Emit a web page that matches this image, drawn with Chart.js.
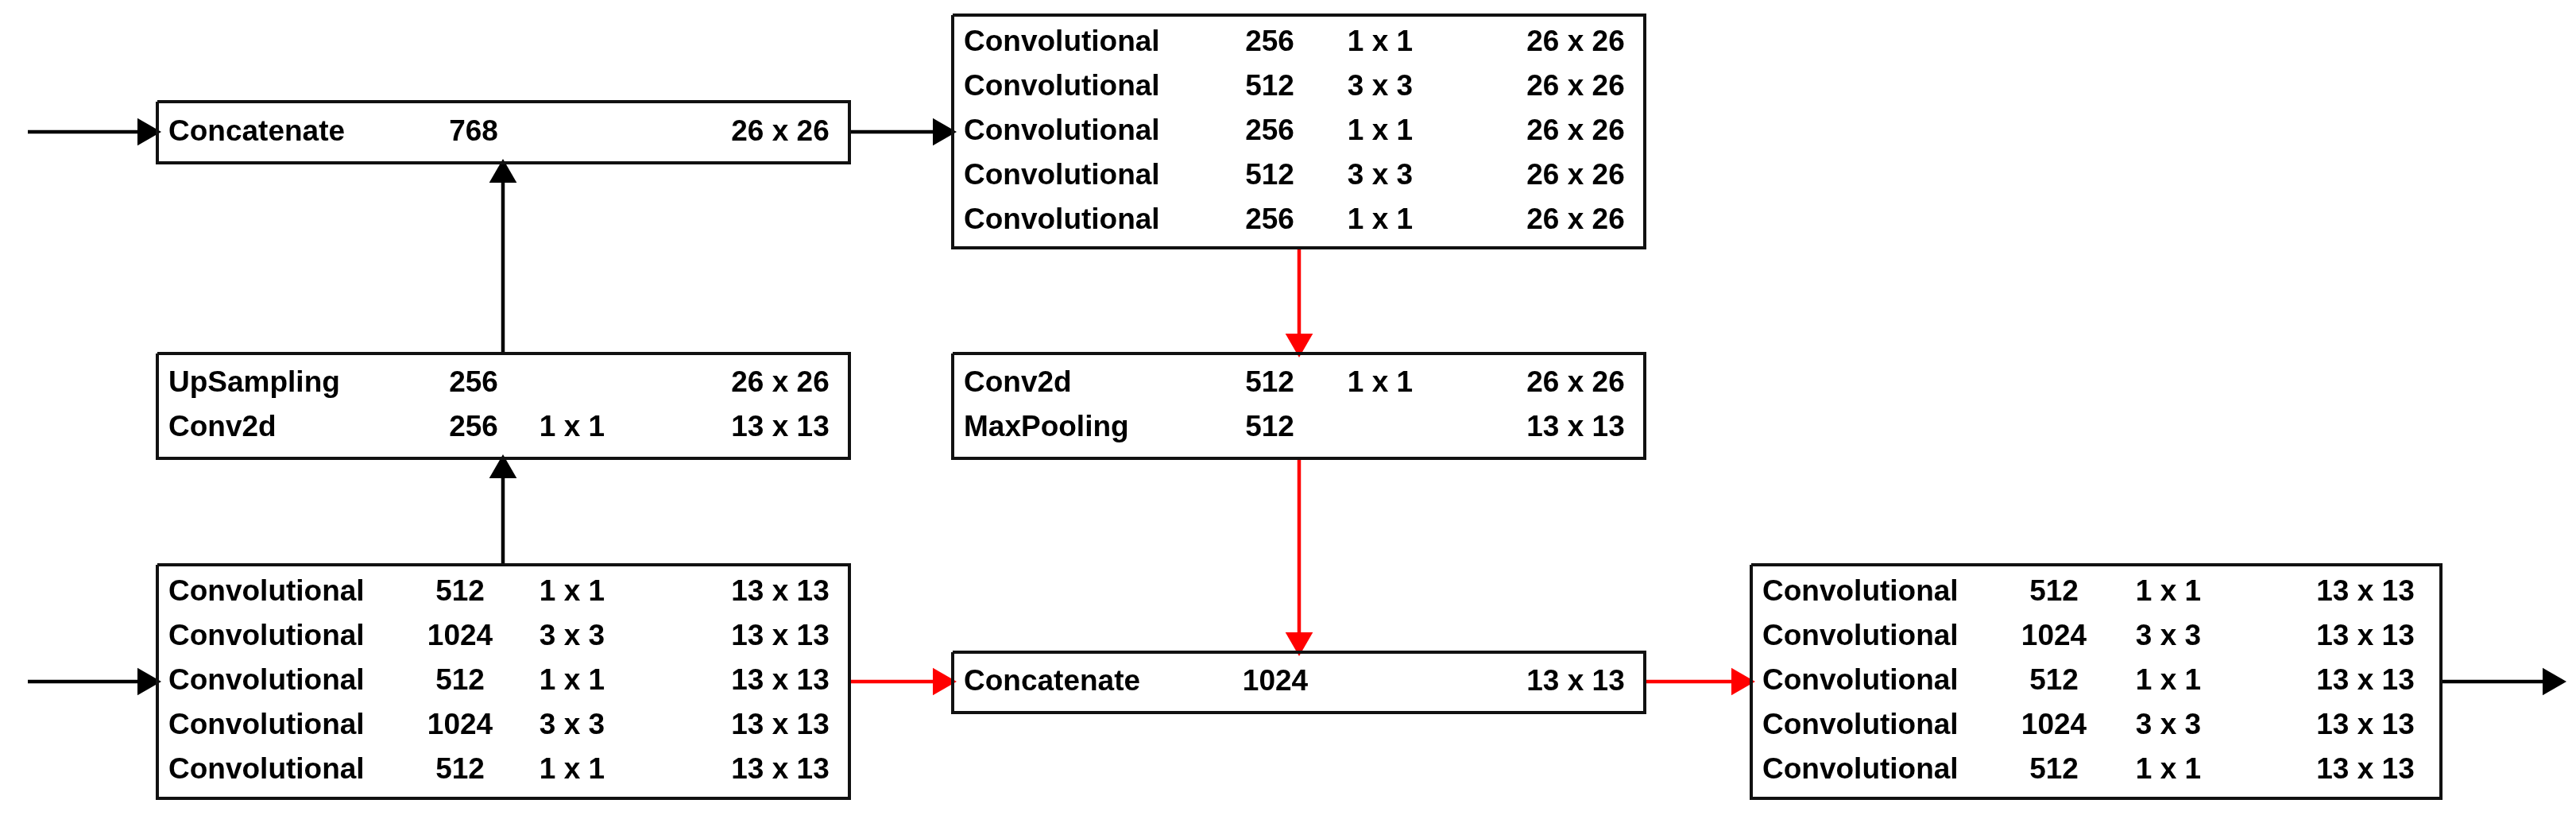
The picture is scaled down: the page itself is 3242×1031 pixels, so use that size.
<!DOCTYPE html>
<html>
<head>
<meta charset="utf-8">
<script src="https://cdn.jsdelivr.net/npm/chart.js@4"></script>
<style>
  html, body { margin: 0; padding: 0; background: #fff; }
  #wrap { width: 3242px; height: 1031px; }
</style>
</head>
<body>
<div id="wrap"><canvas id="net"></canvas></div>
<script>
// layer table per block: name, filters, kernel, output
var topConcatLayers  = ["Concatenate"];
var topConcatFilters = ["768"];
var topConcatKernels = [""];
var topConcatOutputs = ["26 x 26"];

var upLayers  = ["UpSampling", "Conv2d"];
var upFilters = ["256", "256"];
var upKernels = ["", "1 x 1"];
var upOutputs = ["26 x 26", "13 x 13"];

var leftConvLayers  = ["Convolutional", "Convolutional", "Convolutional", "Convolutional", "Convolutional"];
var leftConvFilters = ["512", "1024", "512", "1024", "512"];
var leftConvKernels = ["1 x 1", "3 x 3", "1 x 1", "3 x 3", "1 x 1"];
var leftConvOutputs = ["13 x 13", "13 x 13", "13 x 13", "13 x 13", "13 x 13"];

var topConvLayers  = ["Convolutional", "Convolutional", "Convolutional", "Convolutional", "Convolutional"];
var topConvFilters = ["256", "512", "256", "512", "256"];
var topConvKernels = ["1 x 1", "3 x 3", "1 x 1", "3 x 3", "1 x 1"];
var topConvOutputs = ["26 x 26", "26 x 26", "26 x 26", "26 x 26", "26 x 26"];

var poolLayers  = ["Conv2d", "MaxPooling"];
var poolFilters = ["512", "512"];
var poolKernels = ["1 x 1", ""];
var poolOutputs = ["26 x 26", "13 x 13"];

var midConcatLayers  = ["Concatenate"];
var midConcatFilters = ["1024"];
var midConcatKernels = [""];
var midConcatOutputs = ["13 x 13"];

var rightConvLayers  = ["Convolutional", "Convolutional", "Convolutional", "Convolutional", "Convolutional"];
var rightConvFilters = ["512", "1024", "512", "1024", "512"];
var rightConvKernels = ["1 x 1", "3 x 3", "1 x 1", "3 x 3", "1 x 1"];
var rightConvOutputs = ["13 x 13", "13 x 13", "13 x 13", "13 x 13", "13 x 13"];

// layout (in page units, mapped by the x/y scales)
var rowGap = 56;
var blocks = [
  { l: topConcatLayers, f: topConcatFilters, k: topConcatKernels, o: topConcatOutputs, box: [198, 1069, 128, 205], cols: [398, 538, 784] },
  { l: upLayers, f: upFilters, k: upKernels, o: upOutputs, box: [198, 1069, 445, 577], cols: [398, 522, 784] },
  { l: leftConvLayers, f: leftConvFilters, k: leftConvKernels, o: leftConvOutputs, box: [198, 1069, 711, 1005], cols: [381, 522, 784] },
  { l: topConvLayers, f: topConvFilters, k: topConvKernels, o: topConvOutputs, box: [1199, 2070, 19, 312], cols: [399, 538, 784] },
  { l: poolLayers, f: poolFilters, k: poolKernels, o: poolOutputs, box: [1199, 2070, 445, 577], cols: [399, 538, 784] },
  { l: midConcatLayers, f: midConcatFilters, k: midConcatKernels, o: midConcatOutputs, box: [1199, 2070, 821, 897], cols: [406, 538, 784] },
  { l: rightConvLayers, f: rightConvFilters, k: rightConvKernels, o: rightConvOutputs, box: [2204, 3072, 711, 1005], cols: [381, 525, 773] }
];

var arrows = [
  { from: [35, 166], to: [198, 166], c: "#000" },
  { from: [1069, 166], to: [1199, 166], c: "#000" },
  { from: [633, 445], to: [633, 205], c: "#000" },
  { from: [633, 711], to: [633, 577], c: "#000" },
  { from: [35, 858], to: [198, 858], c: "#000" },
  { from: [1069, 858], to: [1199, 858], c: "#ff0000" },
  { from: [2070, 858], to: [2204, 858], c: "#ff0000" },
  { from: [1635, 312], to: [1635, 445], c: "#ff0000" },
  { from: [1635, 577], to: [1635, 821], c: "#ff0000" },
  { from: [3072, 858], to: [3225, 858], c: "#000" }
];

var datasets = [];
blocks.forEach(function(b) {
  var x0 = b.box[0], x1 = b.box[1], y0 = b.box[2], y1 = b.box[3];
  datasets.push({
    data: [{x: x0, y: y0}, {x: x1, y: y0}, {x: x1, y: y1}, {x: x0, y: y1}, {x: x0, y: y0}],
    showLine: true, borderColor: "#111", borderWidth: 4, pointRadius: 0, fill: false
  });
});
arrows.forEach(function(a) {
  var dx = a.to[0] - a.from[0], dy = a.to[1] - a.from[1];
  var len = Math.sqrt(dx * dx + dy * dy), head = 15;
  var hx = a.to[0] - dx / len * head, hy = a.to[1] - dy / len * head;
  var rot = dx > 0 ? 90 : (dy > 0 ? 180 : 0);
  datasets.push({
    data: [{x: a.from[0], y: a.from[1]}, {x: hx, y: hy}, {x: a.to[0] - dx / len * 4, y: a.to[1] - dy / len * 4}],
    showLine: true, borderColor: a.c, backgroundColor: a.c, borderWidth: 4.5,
    pointStyle: "triangle", pointRadius: [0, 20, 0], rotation: [0, rot, 0],
    pointBorderWidth: 0
  });
});

var tablePlugin = {
  id: "tableText",
  afterDatasetsDraw: function(chart) {
    var ctx = chart.ctx, xs = chart.scales.x, ys = chart.scales.y;
    ctx.save();
    ctx.fillStyle = "#000";
    ctx.font = "bold 37px 'Liberation Sans', Arial, sans-serif";
    ctx.textBaseline = "middle";
    blocks.forEach(function(b) {
      var n = b.l.length;
      var mid = (b.box[2] + b.box[3]) / 2;
      for (var i = 0; i < n; i++) {
        var y = ys.getPixelForValue(mid + (i - (n - 1) / 2) * rowGap);
        ctx.textAlign = "left";
        ctx.fillText(b.l[i], xs.getPixelForValue(b.box[0] + 14), y);
        ctx.textAlign = "center";
        ctx.fillText(b.f[i], xs.getPixelForValue(b.box[0] + b.cols[0]), y);
        ctx.fillText(b.k[i], xs.getPixelForValue(b.box[0] + b.cols[1]), y);
        ctx.fillText(b.o[i], xs.getPixelForValue(b.box[0] + b.cols[2]), y);
      }
    });
    ctx.restore();
  }
};

new Chart(document.getElementById("net"), {
  type: "scatter",
  data: { datasets: datasets },
  options: {
    responsive: true,
    maintainAspectRatio: false,
    animation: false,
    layout: { padding: 0 },
    plugins: { legend: { display: false }, tooltip: { enabled: false } },
    scales: {
      x: { type: "linear", min: 0, max: 3242, display: false },
      y: { type: "linear", min: 0, max: 1031, reverse: true, display: false }
    }
  },
  plugins: [tablePlugin]
});
</script>
</body>
</html>
